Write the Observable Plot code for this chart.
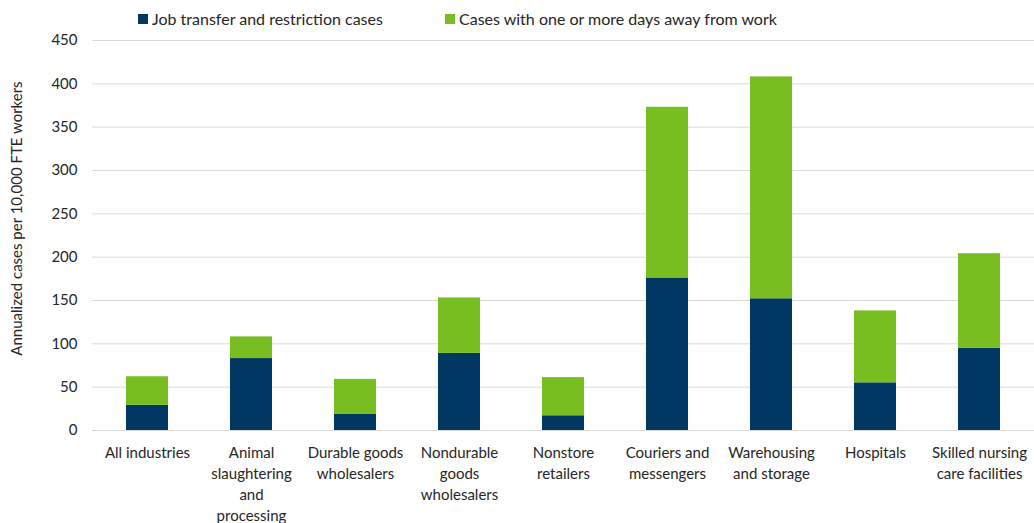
<!DOCTYPE html>
<html><head><meta charset="utf-8">
<script src="https://cdn.jsdelivr.net/npm/d3@7"></script>
<script src="https://cdn.jsdelivr.net/npm/@observablehq/plot@0.6"></script>
<style>
body{margin:0;background:#fff;font-family:Lato,"Open Sans",sans-serif;}
#wrap{position:relative;width:1034px;height:523px;overflow:hidden;}
#legend{position:absolute;top:9px;left:0;width:1034px;height:24px;font-size:16px;color:#262626;}
.item{position:absolute;top:0;display:flex;align-items:center;white-space:nowrap;}
.sw{width:10px;height:10px;margin-right:4px;display:inline-block;}
#chart{position:absolute;top:0;left:0;}
</style></head>
<body><div id="wrap"><div id="legend"></div><div id="chart"></div></div>
<script>
const categories = ["All industries","Animal slaughtering and processing","Durable goods wholesalers","Nondurable goods wholesalers","Nonstore retailers","Couriers and messengers","Warehousing and storage","Hospitals","Skilled nursing care facilities"];
const tickLabels = ["All industries","Animal\nslaughtering\nand\nprocessing","Durable goods\nwholesalers","Nondurable\ngoods\nwholesalers","Nonstore\nretailers","Couriers and\nmessengers","Warehousing\nand storage","Hospitals","Skilled nursing\ncare facilities"];
const seriesNames = ["Job transfer and restriction cases","Cases with one or more days away from work"];
const jobTransfer = [29, 83, 19, 89, 17, 176, 152, 55, 95];
const daysAway = [33, 25, 40, 64, 44, 197, 256, 83, 109];
const colors = ["#003763", "#78be21"];
const yTicks = [0,50,100,150,200,250,300,350,400,450];

const data = [];
categories.forEach((c,i)=>{
  data.push({cat:c, series:seriesNames[0], value:jobTransfer[i]});
  data.push({cat:c, series:seriesNames[1], value:daysAway[i]});
});

const lg = document.getElementById("legend");
const legendX = [138, 445];
seriesNames.forEach((s,i)=>{
  const d = document.createElement("div");
  d.className="item"; d.style.left=legendX[i]+"px";
  d.innerHTML = `<span class="sw" style="background:${colors[i]}"></span><span>${s}</span>`;
  lg.appendChild(d);
});

const chart = Plot.plot({
  width: 1034, height: 523,
  marginTop: 40, marginBottom: 93, marginLeft: 92, marginRight: 0,
  style: {fontFamily: "Lato, 'Open Sans', sans-serif", fontSize: "15px", color: "#262626", background: "transparent"},
  x: {domain: categories, paddingInner: 0.6, paddingOuter: 0.3, label: null},
  y: {domain: [0,450], label: null},
  color: {domain: seriesNames, range: colors},
  marks: [
    Plot.gridY(yTicks, {stroke: "#d9d9d9", strokeOpacity: 1, strokeWidth: 1}),
    Plot.barY(data, {x: "cat", y: "value", fill: "series", order: seriesNames}),
    Plot.axisY(yTicks, {tickSize: 0, tickPadding: 15, fontSize: 15, label: null}),
    Plot.axisX({tickSize: 0, tickPadding: 13, fontSize: 15, lineHeight: 1.4, tickFormat: (d) => tickLabels[categories.indexOf(d)], label: null}),
    Plot.text(["Annualized cases per 10,000 FTE workers"], {frameAnchor: "left", textAnchor: "middle", dx: -75, dy: -17, rotate: -90, fontSize: 15, fill: "#262626"})
  ]
});
document.getElementById("chart").appendChild(chart);
</script></body></html>
